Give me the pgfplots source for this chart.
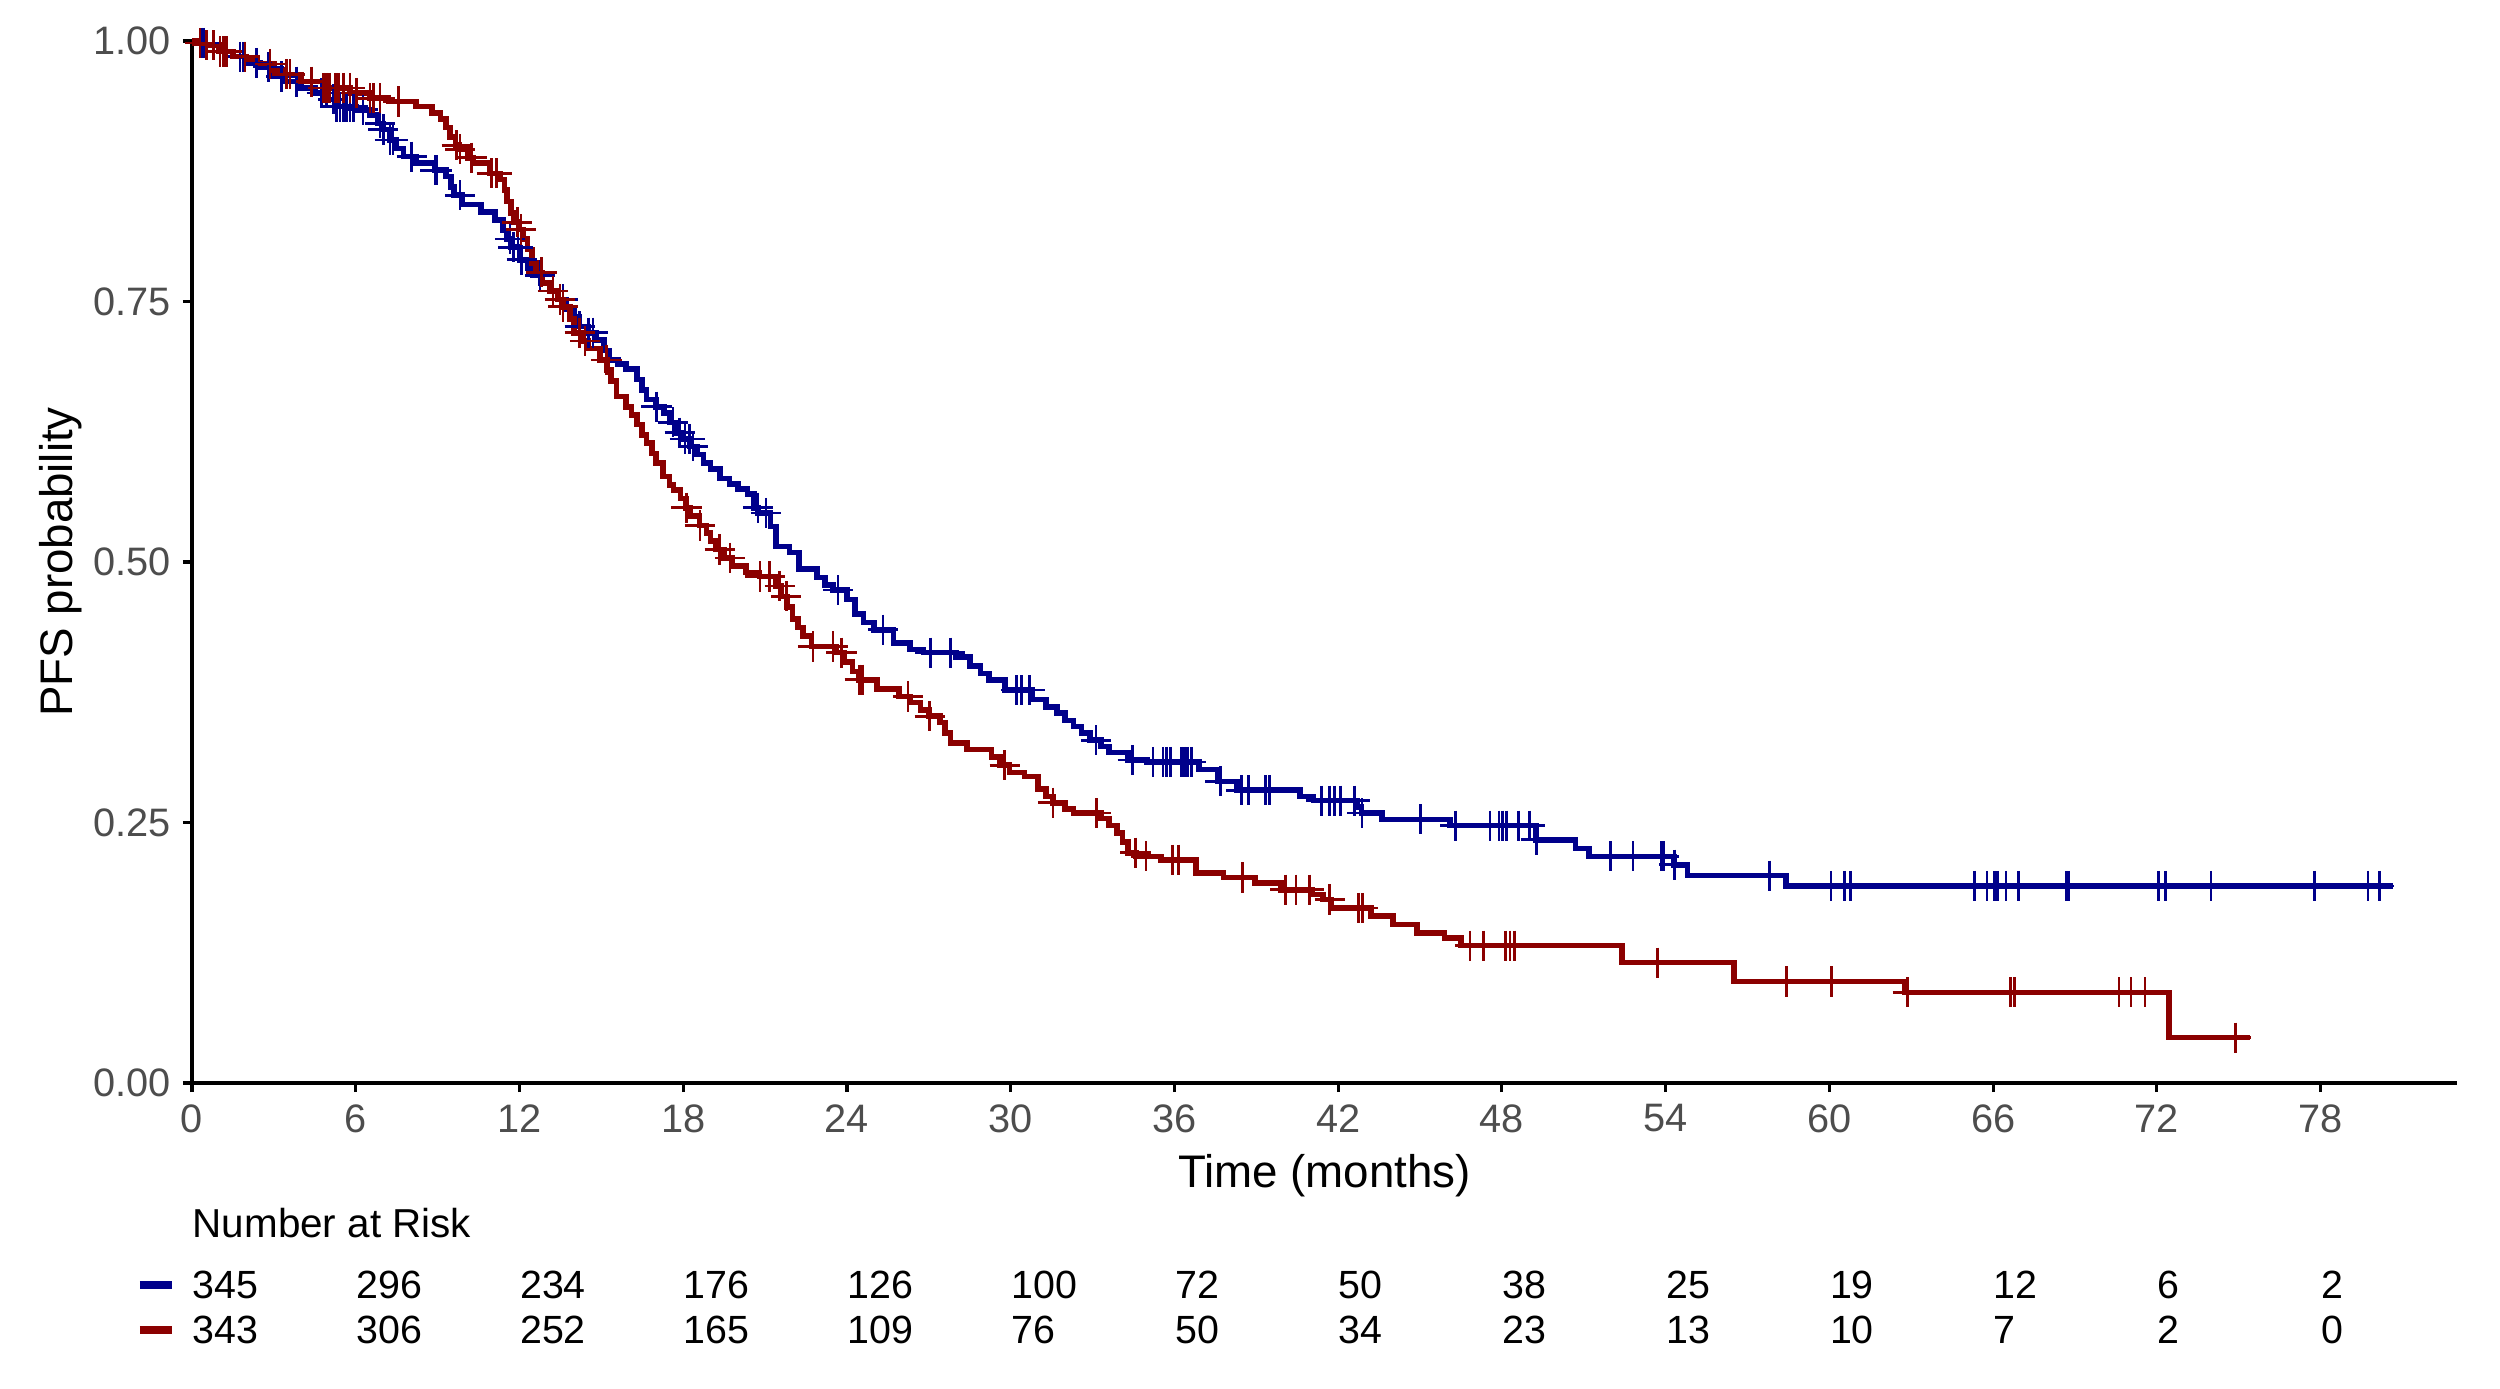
\documentclass[border=0pt]{standalone}
\usepackage{fontspec}
\setmainfont{Liberation Sans}
\usepackage{pgfplots}
\pgfplotsset{compat=1.18}
\definecolor{kmblue}{HTML}{00008B}
\definecolor{kmred}{HTML}{8B0000}
\definecolor{tickgray}{HTML}{4D4D4D}

\begin{document}
\begin{tikzpicture}
\begin{axis}[
    scale only axis,
    width=22.65cm, height=10.42cm,
    xmin=0, xmax=83, ymin=0, ymax=1,
    axis lines=left,
    axis line style={-, line width=1.1pt, black},
    xtick={0,6,...,78},
    ytick={0,0.25,0.5,0.75,1},
    yticklabels={0.00,0.25,0.50,0.75,1.00},
    tick align=outside,
    major tick length=0.09cm,
    tick style={line width=0.9pt, black},
    /pgf/number format/assume math mode=true,
    tick label style={font=\fontsize{11.3}{13}\selectfont, text=tickgray},
    xlabel={Time (months)},
    ylabel={PFS probability},
    label style={font=\fontsize{13}{15}\selectfont},
    xlabel style={at={(axis description cs:0.5,-0.0887)}, anchor=center},
    ylabel style={at={(axis description cs:-0.0578,0.5)}, anchor=center},
    clip=false,
]
% blue arm
\addplot[const plot, kmblue, line width=1.6pt] table {
0 1.000
0.5 0.996
1.0 0.990
1.5 0.985
2.0 0.979
2.5 0.975
3.0 0.966
3.4 0.961
4.0 0.955
4.5 0.950
5.0 0.944
5.3 0.937
6.0 0.934
6.5 0.929
6.8 0.921
7.0 0.915
7.25 0.905
7.5 0.897
7.75 0.889
8.2 0.883
8.9 0.876
9.3 0.870
9.5 0.860
9.6 0.852
9.9 0.843
10.6 0.836
11.1 0.828
11.4 0.818
11.55 0.810
11.7 0.802
12.0 0.790
12.3 0.782
12.5 0.775
12.8 0.768
13.1 0.760
13.4 0.752
13.7 0.743
14.0 0.735
14.2 0.726
14.5 0.720
14.8 0.713
15.1 0.703
15.3 0.694
15.6 0.690
15.9 0.685
16.3 0.675
16.5 0.665
16.65 0.656
17.0 0.649
17.3 0.643
17.5 0.634
17.75 0.624
18.0 0.618
18.25 0.611
18.5 0.603
18.75 0.595
19.0 0.589
19.35 0.580
19.7 0.575
20.0 0.570
20.35 0.565
20.6 0.552
20.75 0.547
21.2 0.534
21.4 0.515
21.9 0.509
22.25 0.493
22.9 0.485
23.2 0.478
23.5 0.473
24.0 0.464
24.3 0.450
24.6 0.442
25.0 0.435
25.7 0.422
26.3 0.416
26.8 0.413
28.0 0.409
28.5 0.400
28.9 0.393
29.2 0.387
29.8 0.377
30.8 0.368
31.3 0.361
31.7 0.355
32.0 0.348
32.3 0.342
32.6 0.336
32.9 0.329
33.3 0.323
33.6 0.317
34.3 0.310
35.0 0.308
36.9 0.301
37.6 0.2895
38.3 0.281
40.6 0.275
41.1 0.271
42.7 0.265
42.85 0.259
43.6 0.253
46.1 0.247
49.25 0.2335
50.7 0.225
51.2 0.2175
54.3 0.2095
54.8 0.199
58.4 0.189
80.66 0.189
};
% red arm
\addplot[const plot, kmred, line width=1.6pt] table {
0 1.000
0.5 0.996
1.0 0.990
1.5 0.985
2.0 0.981
2.4 0.978
3.0 0.972
3.4 0.968
4.0 0.961
4.8 0.955
5.8 0.950
6.5 0.945
7.2 0.942
8.2 0.937
8.8 0.931
9.1 0.925
9.3 0.917
9.45 0.908
9.65 0.900
9.8 0.896
10.1 0.888
10.3 0.883
10.9 0.873
11.3 0.867
11.45 0.857
11.55 0.846
11.7 0.835
11.8 0.826
12.0 0.819
12.15 0.810
12.3 0.800
12.45 0.787
12.6 0.778
12.85 0.768
13.1 0.760
13.4 0.752
13.6 0.745
13.85 0.733
14.0 0.720
14.3 0.712
14.5 0.705
14.95 0.694
15.2 0.684
15.35 0.674
15.55 0.659
15.9 0.649
16.1 0.641
16.3 0.632
16.5 0.622
16.65 0.614
16.85 0.604
17.0 0.595
17.25 0.582
17.5 0.574
17.65 0.569
17.9 0.561
18.1 0.552
18.25 0.544
18.6 0.535
18.85 0.528
19.0 0.520
19.2 0.512
19.5 0.504
19.8 0.496
20.3 0.490
20.8 0.486
21.4 0.477
21.6 0.467
21.8 0.457
22.0 0.445
22.2 0.437
22.4 0.429
22.7 0.419
23.6 0.413
23.9 0.404
24.2 0.395
24.45 0.387
25.1 0.378
25.9 0.371
26.3 0.365
26.7 0.358
27.0 0.352
27.4 0.346
27.6 0.336
27.8 0.326
28.4 0.320
29.3 0.313
29.6 0.305
29.95 0.298
30.5 0.294
31.0 0.282
31.3 0.275
31.55 0.269
32.0 0.263
32.3 0.259
33.3 0.254
33.6 0.247
33.9 0.240
34.1 0.231
34.3 0.221
34.6 0.2175
35.5 0.2143
36.8 0.2015
37.8 0.1973
38.95 0.192
39.9 0.1855
41.05 0.181
41.45 0.176
41.75 0.168
43.2 0.160
44.0 0.152
44.9 0.144
45.9 0.139
46.5 0.1318
52.4 0.1155
56.5 0.0975
62.75 0.087
72.45 0.0435
75.4 0.0435
};
% censored observations, blue
\addplot[only marks, mark=+, mark size=4.3pt, kmblue, mark options={line width=0.75pt}] table {
0.35 0.998
0.42 0.998
1.76 0.985
1.88 0.985
2.37 0.979
2.80 0.975
3.28 0.966
3.83 0.961
4.75 0.950
4.93 0.950
5.18 0.944
5.30 0.937
5.43 0.937
5.55 0.937
5.67 0.937
5.79 0.937
5.91 0.937
6.27 0.934
6.89 0.921
7.01 0.915
7.25 0.905
7.37 0.905
8.05 0.889
8.90 0.876
8.96 0.876
9.82 0.852
11.65 0.810
11.77 0.802
11.95 0.802
12.08 0.790
12.75 0.775
13.23 0.760
13.60 0.752
14.21 0.726
14.52 0.720
14.70 0.720
17.02 0.649
17.63 0.634
17.87 0.624
18.06 0.618
18.24 0.618
18.36 0.611
20.74 0.552
21.03 0.547
23.67 0.473
25.32 0.435
27.06 0.413
27.79 0.413
30.21 0.377
30.39 0.377
30.70 0.377
33.13 0.329
34.47 0.310
35.21 0.308
35.58 0.308
35.70 0.308
35.85 0.308
36.25 0.308
36.37 0.308
36.49 0.308
36.62 0.308
37.69 0.2895
38.45 0.281
38.72 0.281
39.33 0.281
39.49 0.281
41.38 0.271
41.69 0.271
41.87 0.271
42.08 0.271
42.60 0.271
42.88 0.259
45.02 0.253
46.30 0.247
47.57 0.247
47.89 0.247
48.03 0.247
48.16 0.247
48.61 0.247
49.01 0.247
49.26 0.2335
51.98 0.2175
52.80 0.2175
53.83 0.2175
53.92 0.2175
54.32 0.2095
57.80 0.199
60.06 0.189
60.55 0.189
60.77 0.189
65.31 0.189
65.78 0.189
66.04 0.189
66.16 0.189
66.47 0.189
66.92 0.189
68.69 0.189
68.77 0.189
72.05 0.189
72.31 0.189
73.99 0.189
77.77 0.189
79.74 0.189
80.15 0.189
};
% censored observations, red
\addplot[only marks, mark=+, mark size=4.3pt, kmred, mark options={line width=0.75pt}] table {
0.29 0.998
0.54 0.996
0.78 0.996
1.03 0.990
1.15 0.990
1.27 0.990
1.94 0.985
2.86 0.978
3.47 0.968
3.59 0.968
4.38 0.961
4.81 0.955
4.93 0.955
5.05 0.955
5.24 0.955
5.30 0.955
5.36 0.955
5.54 0.955
5.79 0.955
6.03 0.950
6.52 0.945
6.64 0.945
6.89 0.945
7.56 0.942
9.70 0.900
9.82 0.896
10.25 0.888
10.98 0.873
11.16 0.873
11.92 0.826
12.05 0.819
12.81 0.778
13.23 0.760
13.48 0.752
13.60 0.745
14.21 0.720
14.40 0.712
15.19 0.694
18.12 0.552
18.61 0.535
19.34 0.512
19.71 0.504
20.81 0.486
21.17 0.486
21.54 0.477
21.78 0.467
22.76 0.419
23.49 0.419
23.80 0.413
24.47 0.387
24.57 0.387
26.24 0.371
27.03 0.352
29.78 0.305
31.55 0.269
33.14 0.259
34.57 0.221
34.96 0.2175
35.94 0.2143
36.14 0.2143
38.49 0.1973
40.06 0.1855
40.45 0.1855
40.94 0.1855
41.69 0.176
42.74 0.168
42.90 0.168
46.83 0.1318
47.32 0.1318
48.14 0.1318
48.30 0.1318
48.46 0.1318
53.70 0.1155
58.44 0.0975
60.07 0.0975
62.87 0.087
66.63 0.087
66.78 0.087
70.62 0.087
71.05 0.087
71.56 0.087
74.89 0.0435
};
\end{axis}
% number at risk table (x: 22.65cm / 83 months)
\node[anchor=west, inner sep=0pt, font=\fontsize{11.5}{13}\selectfont] at (0,-1.397) {Number at Risk};
\draw[kmblue, line width=2.2pt] (-0.52,-2.0204) -- (-0.20,-2.0204);
\draw[kmred, line width=2.2pt] (-0.52,-2.4675) -- (-0.20,-2.4675);
\foreach \tm/\na/\nb in {0/345/343, 6/296/306, 12/234/252, 18/176/165, 24/126/109, 30/100/76, 36/72/50, 42/50/34, 48/38/23, 54/25/13, 60/19/10, 66/12/7, 72/6/2, 78/2/0}{
  \node[anchor=west, inner sep=0pt, font=\fontsize{11.2}{13}\selectfont] at ({\tm*0.272892},-2.0204) {\na};
  \node[anchor=west, inner sep=0pt, font=\fontsize{11.2}{13}\selectfont] at ({\tm*0.272892},-2.4675) {\nb};
}
\pgfresetboundingbox
\path (-1.92,-3.05) rectangle (23.08,10.83);
\end{tikzpicture}
\end{document}
